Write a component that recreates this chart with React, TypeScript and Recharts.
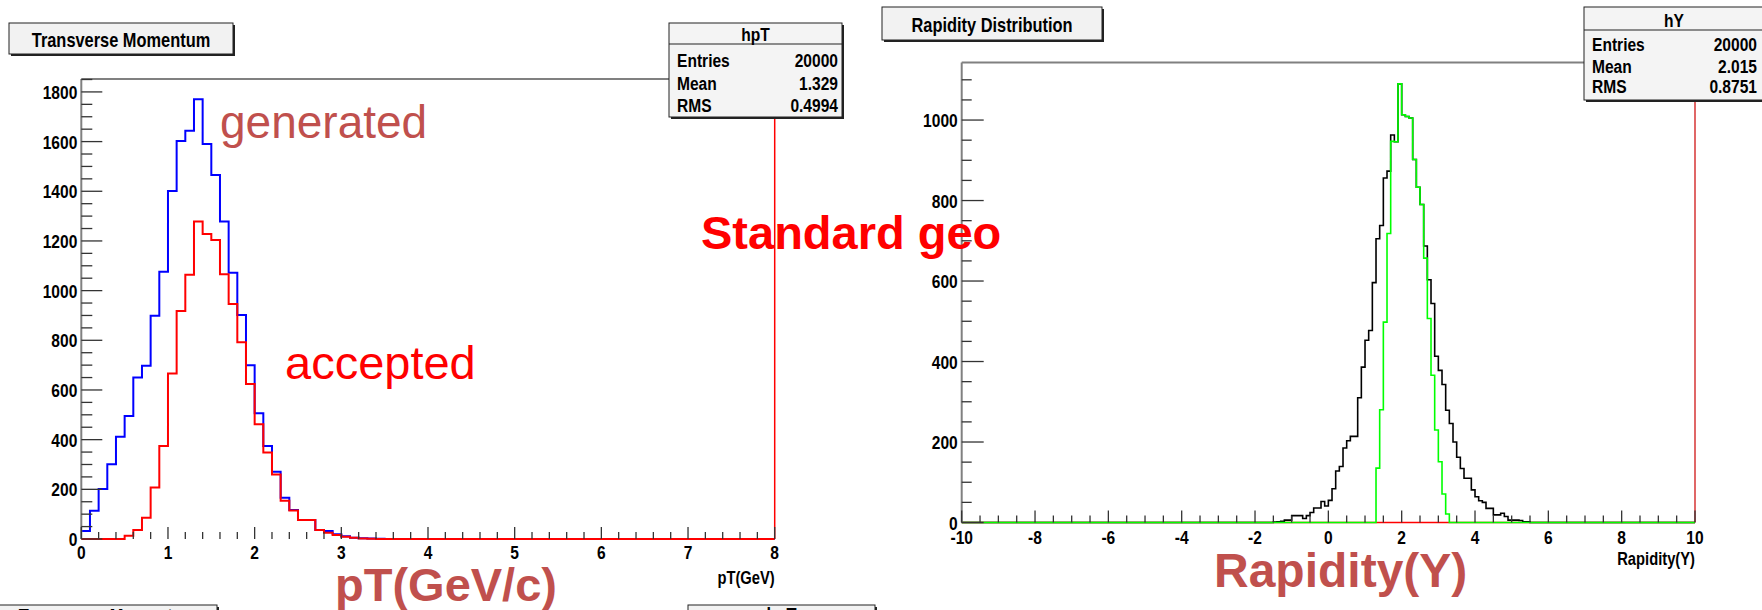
import React from "react";
import { ComposedChart, Line, XAxis, YAxis, ReferenceLine } from "recharts";

// ---- pT histograms: 0.1 GeV bins from 0 to 8 (only the non-empty head is listed)
const ptLo = 0;
const ptHi = 8;
const ptBin = 0.1;
const ptGenerated = [
  32, 114, 201, 301, 412, 495, 650, 698, 899, 1076, 1401, 1602, 1644, 1770, 1590, 1465, 1278, 1072,
  902, 700, 506, 374, 271, 166, 117, 76, 76, 36, 32, 19, 11, 5, 3, 2, 1
];
const ptAccepted = [
  0, 0, 0, 0, 0, 13, 36, 86, 207, 374, 666, 918, 1064, 1278, 1228, 1204, 1066, 946, 792, 624, 462,
  348, 260, 154, 115, 76, 76, 36, 25, 16, 9, 5, 2, 1
];

// ---- rapidity histograms: 0.1 bins from -10 to 10
const rapLo = -10;
const rapHi = 10;
const rapBin = 0.1;
const rapAllStart = -1.5;
const rapAll = [
  1, 2, 3, 6, 6, 17, 17, 17, 10, 17, 25, 36, 36, 52, 41, 55, 84, 128, 139, 185, 203, 214, 214, 310,
  386, 453, 477, 596, 705, 738, 856, 873, 963, 946, 1090, 1013, 1009, 1005, 902, 833, 790, 687, 603,
  544, 413, 378, 343, 279, 246, 200, 162, 134, 110, 110, 81, 64, 54, 50, 35, 35, 19, 19, 23, 15, 6, 6,
  6, 5, 2, 2
];
const rapAccStart = 1.3;
const rapAcc = [
  135, 280, 498, 718, 947, 946, 1090, 1013, 1009, 1005, 902, 833, 790, 657, 507, 366, 230, 151, 71, 21
];
const rapRejStart = 1.3;
const rapRej = [0];

// ---- axes
const ptYMax = 1852;
const ptXLabels = [0, 1, 2, 3, 4, 5, 6, 7, 8];
const ptYLabels = [0, 200, 400, 600, 800, 1000, 1200, 1400, 1600, 1800];
const rapYMax = 1143;
const rapXLabels = [-10, -8, -6, -4, -2, 0, 2, 4, 6, 8, 10];
const rapYLabels = [0, 200, 400, 600, 800, 1000];

const hpTStats = [["Entries", "20000"], ["Mean", "1.329"], ["RMS", "0.4994"]];
const hYStats = [["Entries", "20000"], ["Mean", "2.015"], ["RMS", "0.8751"]];

const SANS = "'Liberation Sans', Arial, sans-serif";
const NARROW = 0.82; // ROOT canvas text looks squeezed sideways
const W = 1762;
const H = 610;

const range = (lo: number, hi: number, step: number) => {
  const out: number[] = [];
  const n = Math.round((hi - lo) / step);
  for (let i = 0; i <= n; i++) out.push(Math.round((lo + i * step) * 1000) / 1000);
  return out;
};

// histogram table for a stepAfter line: one row per bin edge
const binTable = (lo: number, hi: number, width: number, series: any[]) => {
  const count = Math.round((hi - lo) / width);
  const rows: any[] = [];
  for (let k = 0; k <= count; k++) {
    const row: any = { x: Math.round((lo + k * width) * 1000) / 1000 };
    const b = Math.min(k, count - 1);
    series.forEach((s) => {
      const idx = Math.round((lo + b * width - s.start) / width);
      row[s.key] = idx >= 0 && idx < s.values.length ? s.values[idx] : 0;
    });
    rows.push(row);
  }
  return rows;
};

const ptData = binTable(ptLo, ptHi, ptBin, [
  { key: "gen", start: 0, values: ptGenerated },
  { key: "acc", start: 0, values: ptAccepted }
]);
const rapData = binTable(rapLo, rapHi, rapBin, [
  { key: "rej", start: rapRejStart, values: rapRej },
  { key: "all", start: rapAllStart, values: rapAll },
  { key: "acc", start: rapAccStart, values: rapAcc }
]);

const RText = ({ x, y, anchor = "start", size = 18, children }: any) => (
  <text
    transform={`translate(${x} ${y}) scale(${NARROW} 1)`}
    textAnchor={anchor}
    fontFamily={SANS}
    fontWeight="bold"
    fontSize={size}
    fill="#000"
  >
    {children}
  </text>
);

const YTick = (props: any) => {
  const { y, payload, plotLeft, labels, majorLen, minorLen } = props;
  const v = payload.value;
  const major = labels.includes(v);
  return (
    <g>
      <line x1={plotLeft} x2={plotLeft + (major ? majorLen : minorLen)} y1={y} y2={y} stroke="#333" strokeWidth={1.3} />
      {major && (
        <RText x={plotLeft - 4} y={y + 7} anchor="end" size={19}>
          {v}
        </RText>
      )}
    </g>
  );
};

const XTick = (props: any) => {
  const { x, payload, plotBottom, labels, labelY, majorLen, minorLen } = props;
  const v = payload.value;
  const major = labels.includes(v);
  return (
    <g>
      <line x1={x} x2={x} y1={plotBottom} y2={plotBottom - (major ? majorLen : minorLen)} stroke="#333" strokeWidth={1.3} />
      {major && (
        <RText x={x} y={labelY} anchor="middle" size={19}>
          {v}
        </RText>
      )}
    </g>
  );
};

const StatsBox = ({ x, y, w, h, head, title, rows, rowY, labelX, valueX }: any) => (
  <g>
    <rect x={x + 2} y={y + 2} width={w} height={h} fill="#222" />
    <rect x={x} y={y} width={w} height={h} fill="#f4f4f4" stroke="#222" strokeWidth={1} />
    <line x1={x} x2={x + w} y1={head} y2={head} stroke="#222" strokeWidth={1} />
    <RText x={x + w / 2} y={head - 3} anchor="middle" size={19}>
      {title}
    </RText>
    {rows.map((r: string[], i: number) => (
      <g key={r[0]}>
        <RText x={labelX} y={rowY[i]} size={19}>{r[0]}</RText>
        <RText x={valueX} y={rowY[i]} anchor="end" size={19}>{r[1]}</RText>
      </g>
    ))}
  </g>
);

const TitleBox = ({ x, y, w, h, text, base }: any) => (
  <g>
    <rect x={x + 2} y={y + 2} width={w} height={h} fill="#222" />
    <rect x={x} y={y} width={w} height={h} fill="#f2f2f2" stroke="#222" strokeWidth={1} />
    <RText x={x + w / 2} y={base} anchor="middle" size={20}>
      {text}
    </RText>
  </g>
);

export default function App() {
  const ptLeft = 81.3;
  const ptRight = 774.7;
  const ptTop = 79;
  const ptBottom = 539;
  const rapLeft = 961.7;
  const rapRight = 1695;
  const rapTop = 62.5;
  const rapBottom = 522.5;
  const layer: React.CSSProperties = { position: "absolute", left: 0, top: 0 };

  return (
    <div style={{ position: "absolute", left: 0, top: 0, width: W, height: H, overflow: "hidden", background: "#fff" }}>
      <div style={layer}>
        <ComposedChart width={W} height={H} data={ptData} margin={{ top: ptTop, left: 0, right: W - ptRight, bottom: 0 }}>
          <XAxis
            dataKey="x"
            type="number"
            domain={[ptLo, ptHi]}
            ticks={range(ptLo, ptHi, 0.2)}
            interval={0}
            height={H - ptBottom}
            axisLine={false}
            tickLine={false}
            tick={(p: any) => (
              <XTick {...p} plotBottom={ptBottom} labels={ptXLabels} labelY={559} majorLen={12} minorLen={7} />
            )}
          />
          <YAxis
            type="number"
            domain={[0, ptYMax]}
            ticks={range(0, 1850, 50)}
            interval={0}
            width={ptLeft}
            axisLine={{ stroke: "#808080", strokeWidth: 2 }}
            tickLine={false}
            tick={(p: any) => <YTick {...p} plotLeft={ptLeft} labels={ptYLabels} majorLen={21} minorLen={11} />}
          />
          <ReferenceLine y={ptYMax} stroke="#808080" strokeWidth={2} />
          <ReferenceLine x={ptHi} stroke="#ff0000" strokeWidth={1.5} />
          <Line type="stepAfter" dataKey="gen" stroke="#0000ff" strokeWidth={2} dot={false} isAnimationActive={false} />
          <Line type="stepAfter" dataKey="acc" stroke="#ff0000" strokeWidth={2} dot={false} isAnimationActive={false} />
        </ComposedChart>
      </div>

      <div style={layer}>
        <ComposedChart width={W} height={H} data={rapData} margin={{ top: rapTop, left: 0, right: W - rapRight, bottom: 0 }}>
          <XAxis
            dataKey="x"
            type="number"
            domain={[rapLo, rapHi]}
            ticks={range(rapLo, rapHi, 0.5)}
            interval={0}
            height={H - rapBottom}
            axisLine={false}
            tickLine={false}
            tick={(p: any) => (
              <XTick {...p} plotBottom={rapBottom} labels={rapXLabels} labelY={544} majorLen={12} minorLen={7} />
            )}
          />
          <YAxis
            type="number"
            domain={[0, rapYMax]}
            ticks={range(0, 1100, 50)}
            interval={0}
            width={rapLeft}
            axisLine={{ stroke: "#808080", strokeWidth: 2 }}
            tickLine={false}
            tick={(p: any) => <YTick {...p} plotLeft={rapLeft} labels={rapYLabels} majorLen={22} minorLen={10} />}
          />
          <ReferenceLine y={rapYMax} stroke="#808080" strokeWidth={2} />
          <ReferenceLine x={rapHi} stroke="#cc0000" strokeWidth={1.2} />
          <Line type="stepAfter" dataKey="rej" stroke="#ff0000" strokeWidth={1.6} dot={false} isAnimationActive={false} />
          <Line type="stepAfter" dataKey="all" stroke="#000000" strokeWidth={1.6} dot={false} isAnimationActive={false} />
          <Line type="stepAfter" dataKey="acc" stroke="#00ff00" strokeWidth={1.6} dot={false} isAnimationActive={false} />
        </ComposedChart>
      </div>

      <svg width={W} height={H} style={{ ...layer, pointerEvents: "none" }}>
        <TitleBox x={9} y={23} w={224} h={31} text="Transverse Momentum" base={47} />
        <TitleBox x={882} y={7} w={220} h={33} text="Rapidity Distribution" base={32} />
        <TitleBox x={-1} y={605} w={218} h={40} text="Transverse Momentum" base={623} />
        <TitleBox x={688} y={605} w={187} h={40} text="hpT" base={622} />

        <StatsBox x={669} y={23} w={173} h={94} head={44} title="hpT" rows={hpTStats} rowY={[67, 89.5, 111.5]} labelX={677} valueX={838} />
        <StatsBox x={1584} y={7} w={180} h={93} head={30} title="hY" rows={hYStats} rowY={[50.5, 72.5, 92.5]} labelX={1592} valueX={1757} />

        <RText x={ptRight} y={584} anchor="end" size={18}>pT(GeV)</RText>
        <RText x={rapRight} y={565} anchor="end" size={18}>Rapidity(Y)</RText>

        <text x={220} y={138} fontFamily={SANS} fontSize={46} fill="#c0504d">generated</text>
        <text x={285} y={379} fontFamily={SANS} fontSize={47} fill="#ff0000">accepted</text>
        <text x={701} y={249} fontFamily={SANS} fontWeight="bold" fontSize={47} fill="#ff0000">Standard geo</text>
        <text x={335} y={601} fontFamily={SANS} fontWeight="bold" fontSize={47} fill="#c0504d">pT(GeV/c)</text>
        <text x={1214} y={587} fontFamily={SANS} fontWeight="bold" fontSize={48} fill="#c0504d">Rapidity(Y)</text>
      </svg>
    </div>
  );
}
